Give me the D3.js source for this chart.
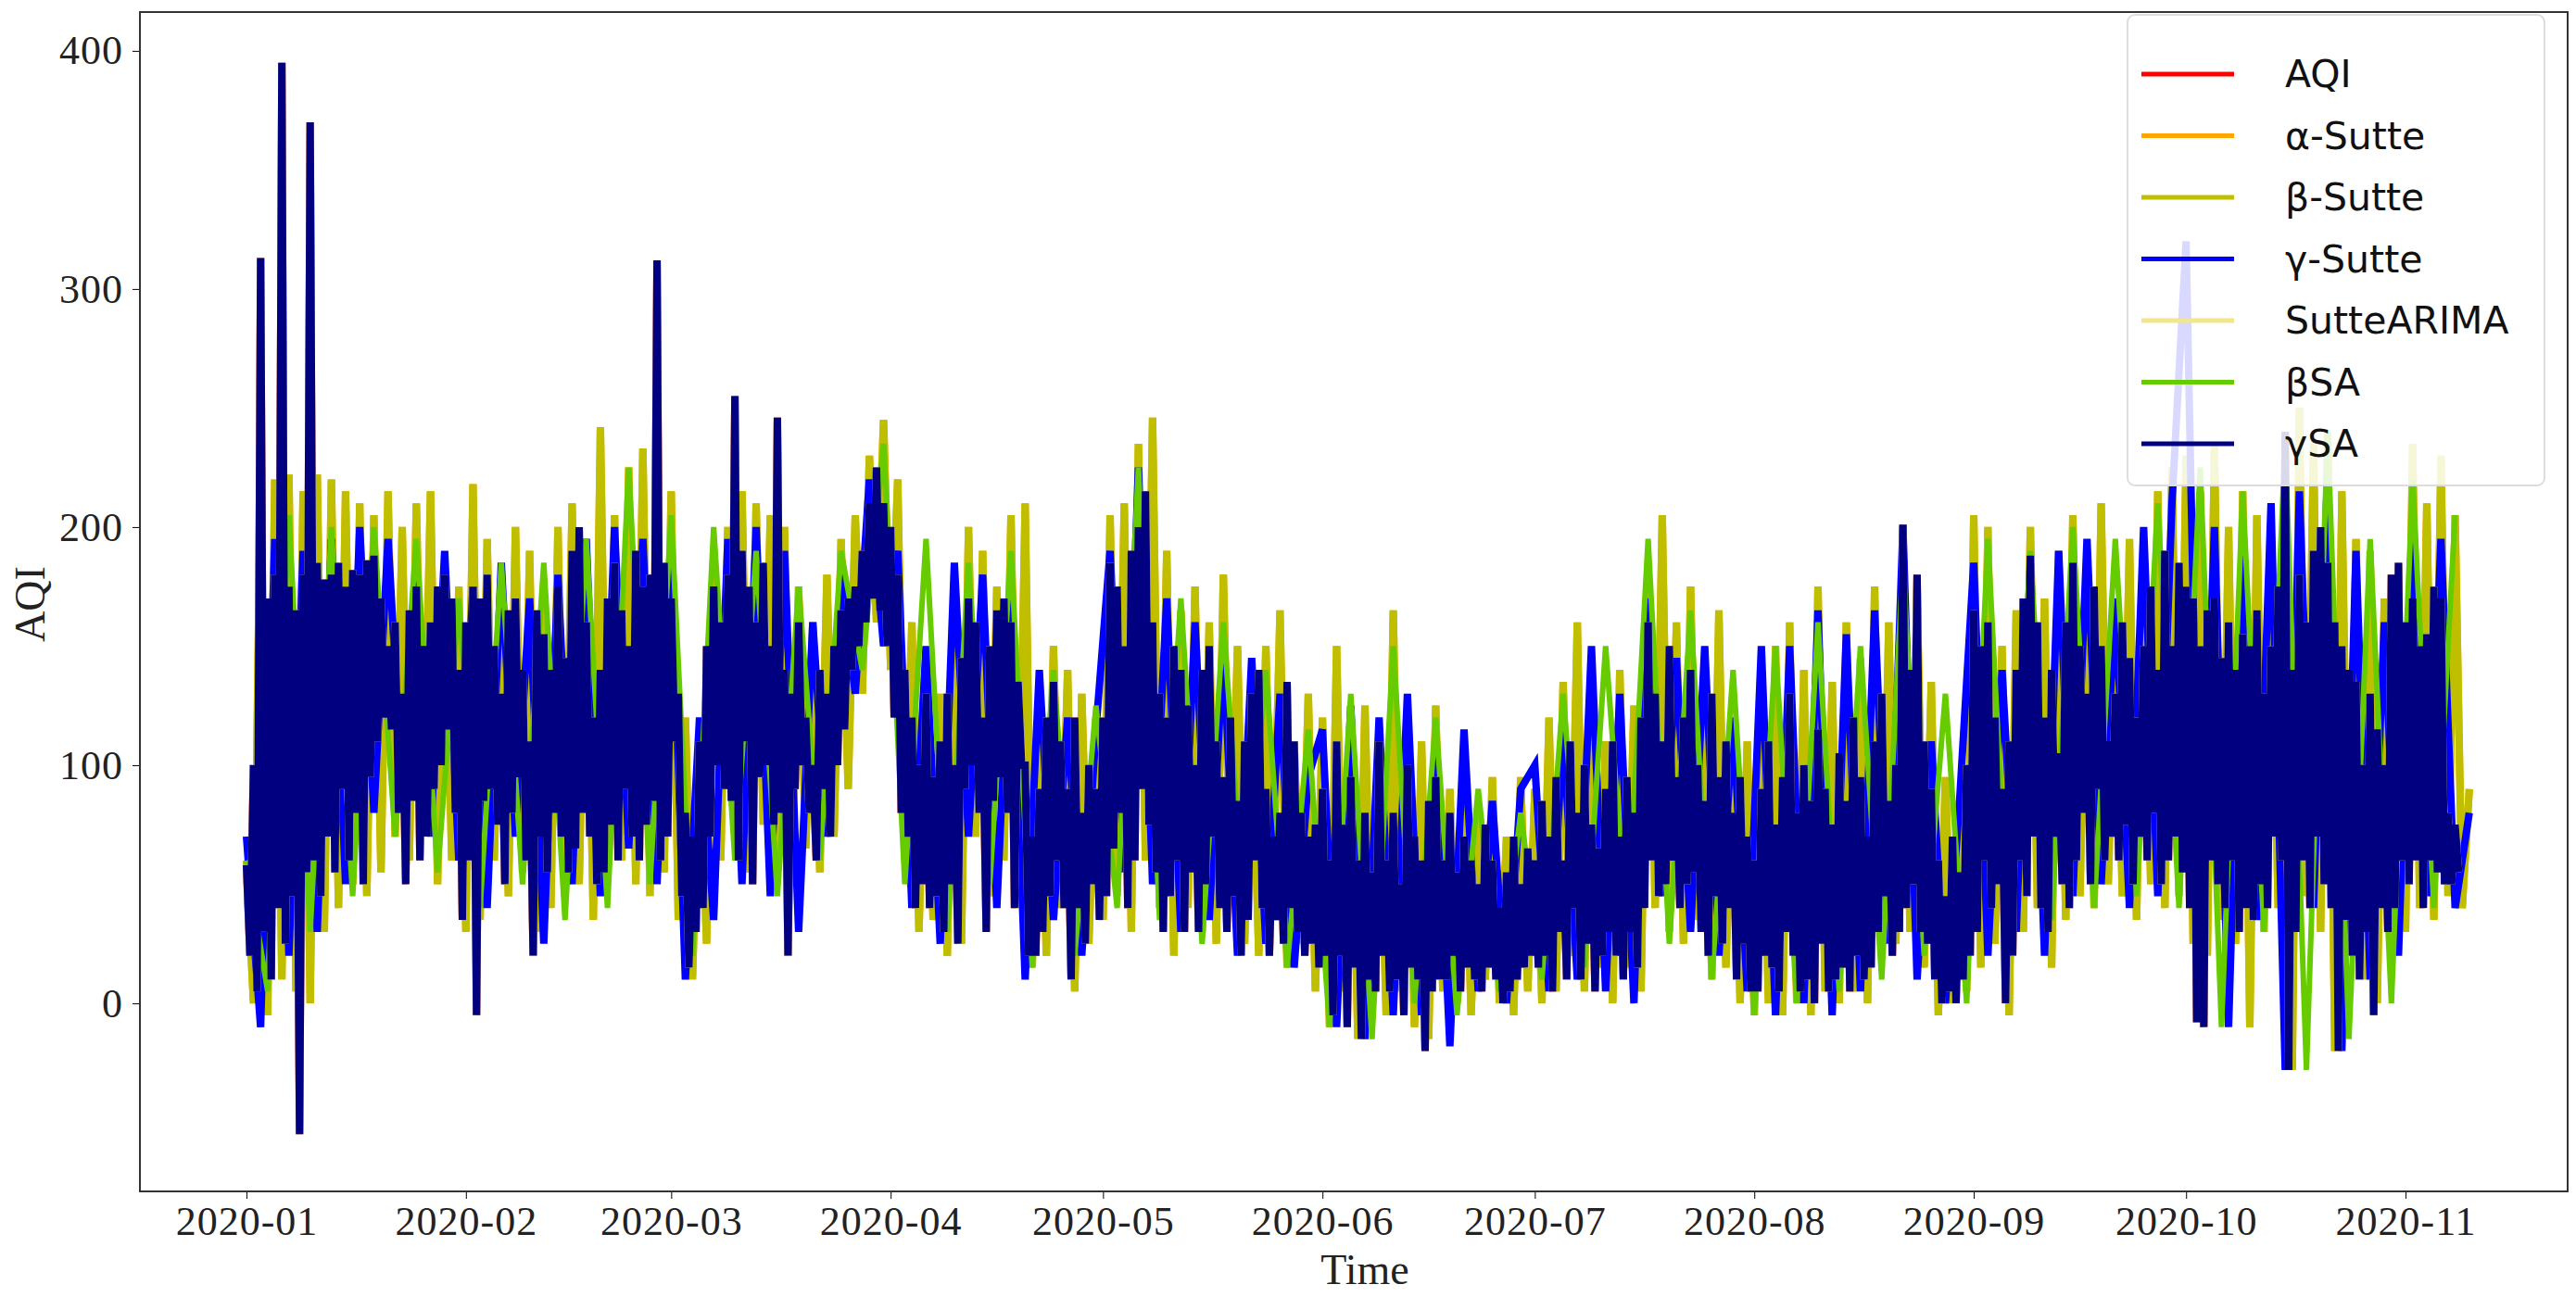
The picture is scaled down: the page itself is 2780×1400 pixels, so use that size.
<!DOCTYPE html>
<html lang="en">
<head>
<meta charset="UTF-8">
<title>AQI forecasts</title>
<script src="https://d3js.org/d3.v7.min.js"></script>
<style>
  body { margin: 0; background: #fff; }
  svg { display: block; }
  .tick text { font-family: "Liberation Serif", "Times New Roman", serif; font-size: 44px; fill: #222; letter-spacing: 1px; }
  .axis-title { font-family: "Liberation Serif", "Times New Roman", serif; font-size: 46px; fill: #222; }
  .legend text { font-family: "DejaVu Sans", sans-serif; font-size: 41px; fill: #111; }
</style>
</head>
<body>
<svg id="chart" width="2780" height="1400"></svg>
<script>
// series names + colours (drawing order = legend order)
const seriesNames = ["AQI", "α-Sutte", "β-Sutte", "γ-Sutte", "SutteARIMA", "βSA", "γSA"];
const seriesColors = ["#ff0000", "#ffa500", "#bfbf00", "#0000ff", "#f0e68c", "#66cc00", "#000080"];
const monthTicks = ["2020-01","2020-02","2020-03","2020-04","2020-05","2020-06","2020-07","2020-08","2020-09","2020-10","2020-11"];
const yTicks = [0, 100, 200, 300, 400];

// γSA, every 12 h from 2020-01-01 (high, low per day)
const gammaSA = [
  58,20,100,5,313,30,170,10,180,40,395,25,175,45,165,-55,180,55,370,60,185,45,178,70,180,55,185,90,175,60,182,80,180,50,186,95,188,110,170,120,150,115,160,80,130,50,165,85,175,60,150,70,160,90,175,100,180,115,170,80,140,35,
  160,60,175,-5,170,85,180,90,150,75,130,50,165,80,170,95,140,60,110,20,165,70,155,55,140,80,175,70,145,55,190,65,200,80,160,70,120,50,140,55,170,75,185,60,165,90,150,70,190,60,175,75,180,85,312,60,185,70,
  170,110,130,45,80,15,70,30,110,40,150,70,175,100,160,90,180,85,255,60,190,110,175,50,160,95,185,100,150,75,246,80,140,20,130,90,160,100,120,80,100,60,140,90,130,70,150,100,165,115,170,140,175,150,190,160,210,170,225,165,210,150,
  200,120,180,80,140,70,120,40,100,50,130,40,95,45,110,30,130,50,100,25,145,90,170,100,160,80,120,30,150,85,165,95,170,80,160,40,135,100,100,20,70,20,90,30,120,45,135,60,110,40,90,10,120,40,80,25,100,50,90,35,
  120,45,185,65,175,80,150,40,190,60,200,90,215,75,160,55,130,30,120,45,150,60,140,30,125,55,100,30,140,50,150,70,110,40,95,30,120,45,85,20,110,35,130,60,140,40,90,20,70,35,80,25,135,40,110,30,80,20,70,25,75,15,
  90,20,60,-5,110,20,75,-10,95,15,60,-15,80,10,55,5,110,20,60,5,80,10,50,-5,100,15,70,10,60,-20,85,5,95,10,60,10,80,20,55,5,70,15,60,10,50,5,75,15,60,10,40,0,55,5,70,10,50,15,65,20,
  60,15,85,20,70,5,95,30,60,10,110,40,80,10,100,25,75,5,65,20,90,30,110,20,70,10,95,30,80,15,120,40,160,60,130,45,110,50,150,60,95,40,120,50,140,55,100,30,85,20,130,45,95,25,110,40,80,10,95,25,70,5,
  60,5,90,20,110,15,75,5,95,30,130,20,80,5,100,10,85,0,115,25,90,5,75,10,105,15,85,5,120,20,95,10,70,15,110,30,130,45,85,20,100,30,201,40,140,50,180,30,110,25,90,10,60,0,45,5,70,0,55,10,100,20,
  165,30,150,60,160,40,120,50,90,0,110,20,140,60,170,45,188,70,160,40,120,30,140,70,105,50,160,40,185,60,150,80,130,50,175,90,150,60,110,70,130,60,160,75,145,50,120,70,150,60,175,80,140,50,190,60,150,70,185,55,
  175,40,170,-8,150,-10,165,60,170,50,145,40,160,60,140,30,155,40,150,35,165,50,130,40,150,70,175,60,240,-28,140,30,180,60,160,40,190,70,200,50,185,40,160,-20,150,35,140,20,135,10,100,30,130,-5,115,40,100,30,
  180,40,185,60,160,50,170,60,150,40,155,60,175,55,170,50,80,50,75,55
];

// β-Sutte, one value per day (alternating high / low)
const betaSutte = [
  60,0,225,-5,220,10,222,5,215,0,222,30,220,40,215,50,210,45,205,55,215,70,200,60,210,75,215,50,185,60,175,
  30,218,35,195,60,180,45,200,55,190,30,170,40,200,45,210,50,190,35,242,55,205,60,225,50,233,45,220,55,
  215,35,120,10,110,25,190,60,200,70,215,55,210,75,205,60,200,50,175,65,160,55,180,70,195,90,205,130,230,160,245,
  140,220,60,160,30,140,35,130,20,150,25,200,70,190,45,175,60,205,40,210,15,120,20,150,40,140,5,130,25,120,
  35,205,45,210,30,235,60,246,40,190,20,165,40,175,30,160,25,180,45,150,25,130,20,150,40,165,15,110,25,130,5,
  120,-10,150,5,115,-15,125,0,105,-5,165,5,100,-10,110,-15,125,5,90,0,100,-5,80,10,95,0,70,-5,95,5,
  90,0,120,5,135,20,160,5,130,15,110,0,140,15,125,5,180,40,205,30,160,25,175,35,140,10,165,15,120,0,110,
  -5,125,0,150,-5,160,0,140,-5,175,5,135,0,160,5,145,0,175,20,160,25,195,30,175,15,135,-5,95,0,85,5,
  205,15,200,25,150,-5,165,30,200,40,170,15,190,35,205,45,175,40,210,50,160,45,195,35,175,50,215,40,225,45,
  230,25,215,20,235,35,200,25,215,-10,205,30,195,40,220,-28,250,45,235,30,240,-20,215,25,195,10,190,0,170,25,150,
  30,235,40,210,35,230,45,205,40,90
];

// γ-Sutte, one value every 2 days
const gammaSutte = [
  70,-10,195,20,190,30,195,50,200,80,195,90,180,70,190,60,
  175,40,185,70,170,25,180,50,195,45,200,65,195,50,
  190,10,120,35,195,50,200,45,190,30,160,70,180,130,220,150,
  190,40,150,25,185,70,180,40,175,10,140,35,120,20,115,
  190,55,225,50,170,30,160,35,150,20,145,25,130,15,95,
  115,-10,125,-15,120,-5,130,-5,110,-18,115,5,85,0,90,
  100,5,115,10,150,5,130,0,170,45,145,30,150,20,120,5,
  150,-5,150,0,165,-5,155,5,165,25,200,10,110,0,85,
  185,20,140,30,185,20,190,45,195,50,170,40,200,45,210,
  320,20,200,-10,190,35,210,-28,215,40,225,-20,190,10,160,20,
  200,45,195,40,80
];

// βSA, one value every 3 days
const betaSA = [
  60,5,205,30,200,45,200,70,195,55,170,
  40,185,50,185,35,195,40,225,50,205,
  20,200,60,190,45,175,60,190,140,235,
  50,195,30,185,50,190,15,140,20,125,
  40,225,35,170,25,160,35,140,15,115,
  -10,130,-15,150,0,120,-5,90,5,80,
  10,130,15,150,30,195,25,165,10,140,
  -5,150,0,160,5,150,10,185,20,130,0,
  195,20,190,35,200,40,195,45,210,40,
  225,-10,215,30,235,-28,240,-15,195,0,
  220,40,205
];

// hidden series sit under the others: AQI, SutteARIMA ~ γSA level, α-Sutte ~ β-Sutte level
const seriesData = [
  { values: gammaSA, stepH: 12 },
  { values: betaSutte, stepH: 24 },
  { values: betaSutte, stepH: 24 },
  { values: gammaSutte, stepH: 48 },
  { values: gammaSA, stepH: 12 },
  { values: betaSA, stepH: 72 },
  { values: gammaSA, stepH: 12 }
];

const m = { left: 151, right: 2771, top: 13, bottom: 1286 };
const svg = d3.select("#chart");
const t0 = new Date(2020, 0, 1);
const day = 864e5;

const x = d3.scaleTime()
  .domain([new Date(+t0 - 15.05 * day), new Date(+t0 + 327.9 * day)])
  .range([m.left, m.right]);
const y = d3.scaleLinear().domain([-79, 416.3]).range([m.bottom, m.top]);

const line = d3.line().x(d => x(d.t)).y(d => y(d.v));

svg.append("defs").append("clipPath").attr("id", "clip")
  .append("rect").attr("x", m.left).attr("y", m.top)
  .attr("width", m.right - m.left).attr("height", m.bottom - m.top);

const plot = svg.append("g").attr("clip-path", "url(#clip)");
seriesData.forEach((s, i) => {
  const pts = s.values.map((v, j) => ({ t: new Date(+t0 + j * s.stepH * 36e5), v }));
  plot.append("path")
    .attr("d", line(pts))
    .attr("fill", "none")
    .attr("stroke", seriesColors[i])
    .attr("stroke-width", i === 5 ? 6 : 8);
});

// axes
const xAxis = d3.axisBottom(x)
  .tickValues(monthTicks.map(s => d3.timeParse("%Y-%m")(s)))
  .tickFormat(d3.timeFormat("%Y-%m"))
  .tickSize(8).tickPadding(8);
svg.append("g").attr("transform", `translate(0,${m.bottom})`).call(xAxis)
  .call(g => g.select(".domain").remove());

const yAxis = d3.axisLeft(y).tickValues(yTicks).tickSize(8).tickPadding(10);
svg.append("g").attr("transform", `translate(${m.left},0)`).call(yAxis)
  .call(g => g.select(".domain").remove());

svg.append("rect")
  .attr("x", m.left).attr("y", m.top)
  .attr("width", m.right - m.left).attr("height", m.bottom - m.top)
  .attr("fill", "none").attr("stroke", "#333").attr("stroke-width", 2);

svg.append("text").attr("class", "axis-title")
  .attr("x", (m.left + m.right) / 2 + 12).attr("y", 1386)
  .attr("text-anchor", "middle").text("Time");
svg.append("text").attr("class", "axis-title")
  .attr("transform", "translate(48,652) rotate(-90)")
  .attr("text-anchor", "middle").text("AQI");

// legend
const lg = svg.append("g").attr("class", "legend");
lg.append("rect")
  .attr("x", 2296).attr("y", 16).attr("width", 450).attr("height", 508)
  .attr("rx", 8).attr("fill", "rgba(255,255,255,0.85)").attr("stroke", "#ddd").attr("stroke-width", 2);
seriesNames.forEach((name, i) => {
  const ly = 80 + i * 66.5;
  lg.append("line").attr("x1", 2311).attr("x2", 2411).attr("y1", ly).attr("y2", ly)
    .attr("stroke", seriesColors[i]).attr("stroke-width", 5);
  lg.append("text").attr("x", 2466).attr("y", ly).attr("dy", "0.35em").text(name);
});
</script>
</body>
</html>
